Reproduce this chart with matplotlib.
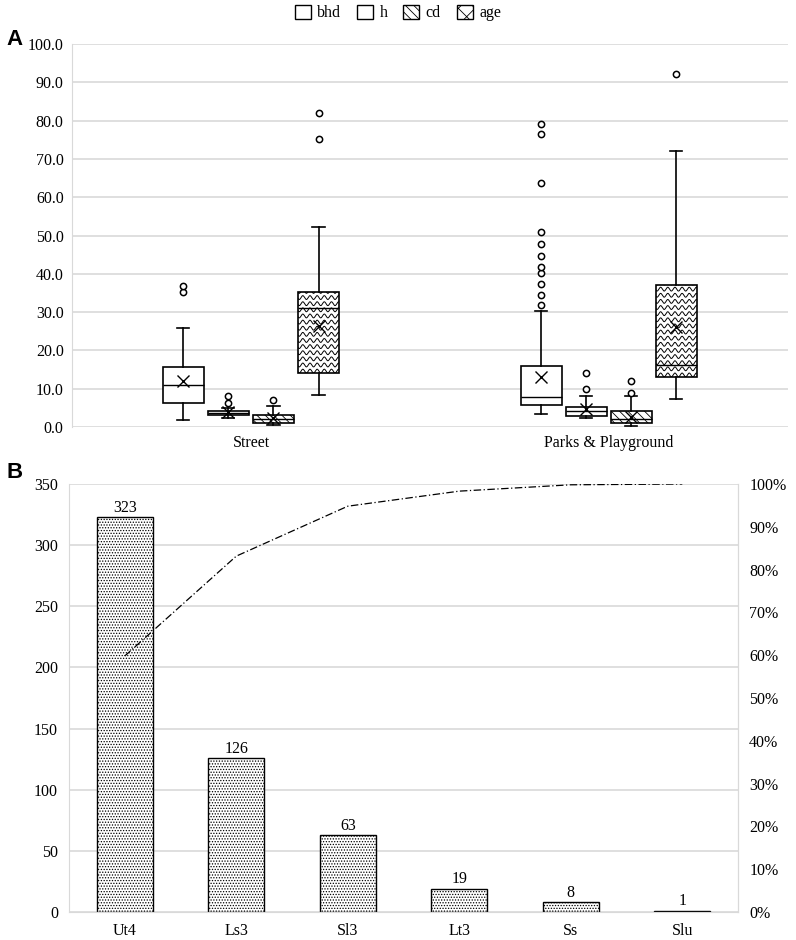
"""
Tree size box plots by site type (A) and soil texture Pareto chart (B).
"""

import matplotlib
matplotlib.use('Agg')
import matplotlib.pyplot as plt
import matplotlib.patches as mpatches
from matplotlib.ticker import FuncFormatter
import numpy as np

plt.rcParams['font.family'] = ['Liberation Serif', 'DejaVu Serif']
plt.rcParams['hatch.linewidth'] = 0.6

GRID = '#d9d9d9'

# ---- panel A data ----
sites = ['Street', 'Parks & Playground']
variables = ['bhd', 'h', 'cd', 'age']

street_stats = [
    # whislo, q1, med, q3, whishi, mean, fliers
    (1.8, 6.3, 10.9, 15.7, 25.8, 12.1, [35.2, 36.8]),
    (2.3, 3.1, 3.6, 4.2, 5.0, 3.9, [6.2, 8.1]),
    (0.5, 1.1, 2.0, 3.1, 5.6, 2.3, [7.0]),
    (8.3, 14.0, 31.2, 35.2, 52.1, 26.4, [75.1, 82.1]),
]
parks_stats = [
    (3.4, 5.8, 7.9, 15.9, 30.3, 13.1,
     [31.9, 34.5, 37.3, 40.3, 41.7, 44.6, 47.9, 51.0, 63.7, 76.5, 79.0]),
    (2.3, 2.95, 4.2, 5.3, 8.1, 4.6, [10.0, 14.2]),
    (0.3, 1.1, 2.0, 4.3, 8.1, 2.7, [9.0, 12.1]),
    (7.4, 13.0, 16.3, 37.2, 72.1, 26.2, [92.1]),
]

# ---- panel B data ----
soils = ['Ut4', 'Ls3', 'Sl3', 'Lt3', 'Ss', 'Slu']
counts = [323, 126, 63, 19, 8, 1]

hatches = {'bhd': '', 'h': '', 'cd': '\\\\\\\\', 'age': None}


def to_dict(s):
    return dict(whislo=s[0], q1=s[1], med=s[2], q3=s[3], whishi=s[4],
                mean=s[5], fliers=s[6])


def add_waves(ax, patch, x0, x1, y0, y1):
    # wavy fill for the "age" boxes, clipped to the box outline
    xs = np.linspace(x0, x1, 200)
    yy = y0 - 1.0
    while yy < y1 + 1.0:
        line, = ax.plot(xs, yy + 0.5 * np.sin(2 * np.pi * xs / 0.02),
                        color='black', lw=0.7, zorder=3)
        line.set_clip_path(patch)
        yy += 1.6


fig = plt.figure(figsize=(7.96, 9.40), dpi=100)

# ================= panel A =================
axA = fig.add_axes([0.0905, 0.5457, 0.899, 0.4075])
step = 0.126
width = 0.115
offsets = (np.arange(len(variables)) - 1.5) * step

for g, group in enumerate([street_stats, parks_stats]):
    stats = [to_dict(s) for s in group]
    pos = g + offsets
    res = axA.bxp(stats, positions=pos, widths=width, capwidths=0.034,
                  patch_artist=True, showmeans=True, showfliers=True,
                  boxprops=dict(facecolor='white', edgecolor='black', lw=1.2),
                  medianprops=dict(color='black', lw=1.0),
                  whiskerprops=dict(color='black', lw=1.2),
                  capprops=dict(color='black', lw=1.2),
                  meanprops=dict(marker='x', markeredgecolor='black',
                                 markersize=8, markeredgewidth=1.0),
                  flierprops=dict(marker='o', markerfacecolor='white',
                                  markeredgecolor='black', markersize=4.5,
                                  markeredgewidth=1.1))
    for k, (box, var) in enumerate(zip(res['boxes'], variables)):
        box.set_zorder(2)
        if var == 'age':
            add_waves(axA, box, pos[k] - width / 2, pos[k] + width / 2,
                      stats[k]['q1'], stats[k]['q3'])
        elif hatches[var]:
            box.set_hatch(hatches[var])
    for key in ['medians', 'whiskers', 'caps', 'means', 'fliers']:
        for a in res[key]:
            a.set_zorder(4)

axA.set_xlim(-0.5, 1.5)
axA.set_ylim(0, 100)
axA.set_yticks(np.arange(0, 101, 10))
axA.yaxis.set_major_formatter(FuncFormatter(lambda v, p: '%.1f' % v))
axA.set_xticks([0, 1])
axA.set_xticklabels(sites)
axA.yaxis.grid(True, color=GRID, lw=1.2)
axA.set_axisbelow(True)
for s in ['top', 'right', 'bottom']:
    axA.spines[s].set_visible(False)
axA.spines['left'].set_color(GRID)
axA.tick_params(axis='both', length=0, labelsize=11.5, pad=6)

legend_handles = [
    mpatches.Patch(facecolor='white', edgecolor='black', label='bhd'),
    mpatches.Patch(facecolor='white', edgecolor='black', label='h'),
    mpatches.Patch(facecolor='white', edgecolor='black', hatch=hatches['cd'], label='cd'),
    mpatches.Patch(facecolor='white', edgecolor='black', hatch='xx', label='age'),
]
fig.legend(handles=legend_handles, loc='center', bbox_to_anchor=(0.5, 0.986),
           ncol=4, frameon=False, fontsize=11.5, handlelength=1.0,
           handleheight=1.0, handletextpad=0.4, columnspacing=1.0)

fig.text(0.008, 0.958, 'A', fontsize=16, fontweight='bold',
         family='Liberation Sans', va='center')

# ================= panel B =================
axB = fig.add_axes([0.0867, 0.0298, 0.8405, 0.4553])
x = np.arange(len(soils))
bars = axB.bar(x, counts, width=0.5, facecolor='white', edgecolor='black',
               hatch='......', lw=1.0, zorder=2)
axB.bar_label(bars, labels=[str(c) for c in counts], fontsize=11.5, padding=1)
axB.set_xlim(-0.5, len(soils) - 0.5)
axB.set_ylim(0, 350)
axB.set_yticks(np.arange(0, 351, 50))
axB.set_xticks(x)
axB.set_xticklabels(soils)
axB.yaxis.grid(True, color=GRID, lw=1.2)
axB.set_axisbelow(True)
axB.spines['top'].set_visible(False)
for s in ['left', 'right', 'bottom']:
    axB.spines[s].set_color(GRID)
axB.tick_params(axis='both', length=0, labelsize=11.5, pad=8)

# cumulative share on the right axis
axR = axB.twinx()
cum = np.cumsum(counts) / np.sum(counts)
axR.plot(x, cum, color='black', lw=0.9, ls=(0, (6, 2, 1, 2)), zorder=5)
axR.set_ylim(0, 1)
axR.set_yticks(np.arange(0, 1.01, 0.1))
axR.yaxis.set_major_formatter(FuncFormatter(lambda v, p: '%d%%' % round(v * 100)))
for s in ['top', 'left', 'bottom']:
    axR.spines[s].set_visible(False)
axR.spines['right'].set_color(GRID)
axR.tick_params(axis='y', length=0, labelsize=11.5, pad=8)

fig.text(0.008, 0.497, 'B', fontsize=16, fontweight='bold',
         family='Liberation Sans', va='center')

plt.savefig('out.png', dpi=100)
